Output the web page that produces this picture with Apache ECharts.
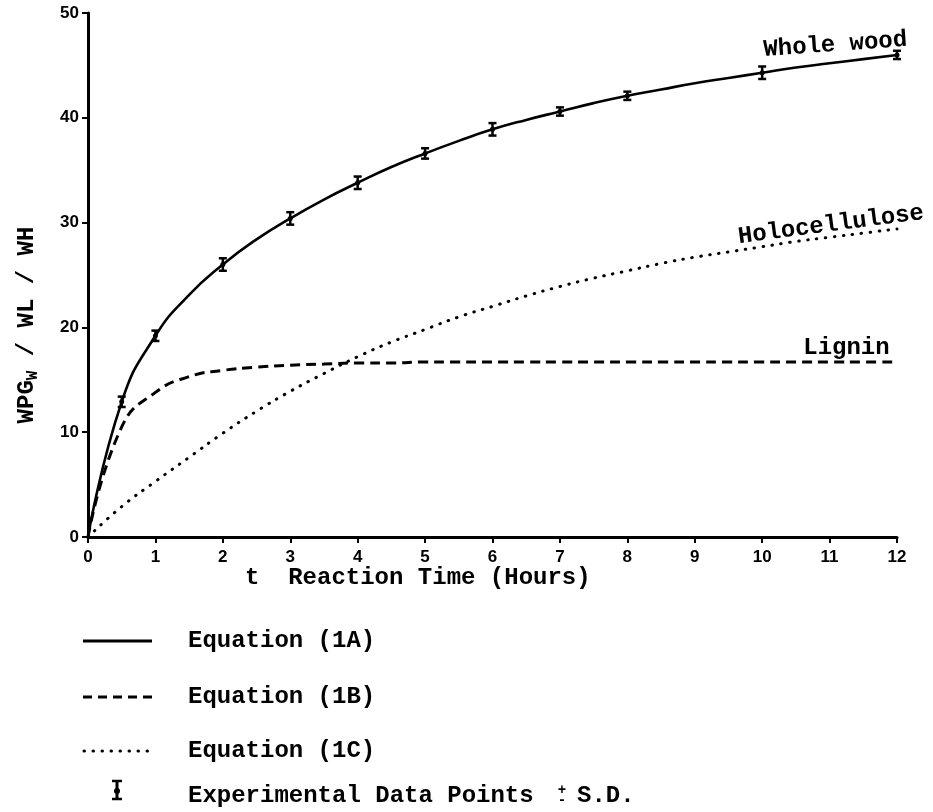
<!DOCTYPE html>
<html>
<head>
<meta charset="utf-8">
<script src="https://cdn.jsdelivr.net/npm/echarts@6/dist/echarts.min.js"></script>
<style>
  html, body { margin: 0; padding: 0; background: #fff; }
  #main { width: 933px; height: 812px; }
</style>
</head>
<body>
<div id="main"></div>
<script>
const hours = [0, 0.5, 1, 1.5, 2, 2.5, 3, 3.5, 4, 4.5, 5, 5.5, 6, 6.5, 7, 7.5, 8, 8.5, 9, 9.5, 10, 10.5, 11, 11.5, 12];
// Equation (1A) whole wood
const wholeWood = [0, 12.9, 19.2, 23.1, 26.0, 28.4, 30.4, 32.2, 33.8, 35.3, 36.6, 37.8, 38.9, 39.8, 40.6, 41.4, 42.1, 42.7, 43.3, 43.8, 44.3, 44.8, 45.2, 45.6, 46.0];
// Equation (1B) lignin
const lignin = [0, 10.5, 13.8, 15.3, 15.9, 16.2, 16.4, 16.5, 16.6, 16.6, 16.7, 16.7, 16.7, 16.7, 16.7, 16.7, 16.7, 16.7, 16.7, 16.7, 16.7, 16.7, 16.7, 16.7, 16.7];
// Equation (1C) holocellulose
const holocellulose = [0, 2.9, 5.3, 7.6, 9.9, 12.0, 13.9, 15.6, 17.2, 18.6, 19.8, 21.0, 22.0, 23.0, 23.9, 24.7, 25.4, 26.1, 26.7, 27.2, 27.7, 28.2, 28.6, 29.0, 29.4];

// experimental data points +- S.D.
const expHours = [0.5, 1, 2, 3, 4, 5, 6, 7, 8, 10, 12];
const expMean = [12.9, 19.2, 26.0, 30.4, 33.8, 36.6, 38.9, 40.6, 42.1, 44.3, 46.0];
const expSD = [0.4, 0.4, 0.5, 0.5, 0.5, 0.4, 0.5, 0.3, 0.3, 0.5, 0.3];

const xTicks = [0, 12, 1];
const yTicks = [0, 50, 10];

const mono = "'Liberation Mono', 'DejaVu Sans Mono', monospace";
const sans = "'Liberation Sans', Arial, sans-serif";

const pairs = (xs, ys) => xs.map((x, i) => [x, ys[i]]);

function curveLabel (text, coord, offset, rotate) {
  return {
    symbol: 'circle',
    symbolSize: 0,
    silent: true,
    label: {
      show: true,
      formatter: text,
      position: 'inside',
      offset: offset,
      rotate: rotate,
      color: '#000',
      fontFamily: mono,
      fontWeight: 'bold',
      fontSize: 24
    },
    data: [{ coord: coord }]
  };
}

const chart = echarts.init(document.getElementById('main'));

const option = {
  backgroundColor: '#fff',
  animation: false,
  grid: { left: 88, right: 36, top: 13, bottom: 275 },
  xAxis: {
    type: 'value',
    min: xTicks[0],
    max: xTicks[1],
    interval: xTicks[2],
    splitLine: { show: false },
    axisLine: { lineStyle: { color: '#000', width: 3 } },
    axisTick: { length: 6, lineStyle: { color: '#000', width: 2 } },
    axisLabel: { color: '#000', fontFamily: sans, fontWeight: 'bold', fontSize: 17, margin: 12 }
  },
  yAxis: {
    type: 'value',
    min: yTicks[0],
    max: yTicks[1],
    interval: yTicks[2],
    splitLine: { show: false },
    axisLine: { lineStyle: { color: '#000', width: 3 } },
    axisTick: { length: 6, lineStyle: { color: '#000', width: 2 } },
    axisLabel: { color: '#000', fontFamily: sans, fontWeight: 'bold', fontSize: 17, margin: 9 }
  },
  series: [
    {
      name: 'Equation (1A)',
      type: 'line',
      data: pairs(hours, wholeWood),
      smooth: 0.5,
      symbol: 'none',
      lineStyle: { color: '#000', width: 2.6 },
      z: 3,
      markPoint: curveLabel('Whole wood', [11, 45.2], [7, -18], 4)
    },
    {
      name: 'Equation (1B)',
      type: 'line',
      data: pairs(hours, lignin),
      smooth: 0.5,
      symbol: 'none',
      lineStyle: { color: '#000', width: 3, type: [10, 6] },
      z: 2,
      markPoint: curveLabel('Lignin', [11.25, 16.7], [0, -14], 0)
    },
    {
      name: 'Equation (1C)',
      type: 'line',
      data: pairs(hours, holocellulose),
      smooth: 0.5,
      symbol: 'none',
      lineStyle: { color: '#000', width: 3, type: [0.5, 8.5], cap: 'round' },
      z: 2,
      markPoint: curveLabel('Holocellulose', [11, 28.6], [3, -12], 7.5)
    },
    {
      name: 'Experimental Data Points',
      type: 'custom',
      data: expHours.map((h, i) => [h, expMean[i], expSD[i]]),
      z: 4,
      renderItem: function (params, api) {
        const x = api.value(0), m = api.value(1), s = api.value(2);
        const top = api.coord([x, m + s]);
        const bot = api.coord([x, m - s]);
        const mid = api.coord([x, m]);
        const w = 4;
        const st = { stroke: '#000', lineWidth: 2.5 };
        return {
          type: 'group',
          children: [
            { type: 'line', shape: { x1: top[0], y1: top[1] - 1, x2: bot[0], y2: bot[1] + 1 }, style: st },
            { type: 'line', shape: { x1: top[0] - w, y1: top[1] - 1, x2: top[0] + w, y2: top[1] - 1 }, style: st },
            { type: 'line', shape: { x1: bot[0] - w, y1: bot[1] + 1, x2: bot[0] + w, y2: bot[1] + 1 }, style: st },
            { type: 'circle', shape: { cx: mid[0], cy: mid[1], r: 2.5 }, style: { fill: '#000' } }
          ]
        };
      }
    }
  ],
  graphic: [
    {
      type: 'text',
      x: 27,
      y: 325,
      rotation: Math.PI / 2,
      style: {
        text: '{m|WPG}{s|W}{m| / WL / WH}',
        align: 'center',
        verticalAlign: 'middle',
        fill: '#000',
        rich: {
          m: { fontFamily: mono, fontWeight: 'bold', fontSize: 24, lineHeight: 28, verticalAlign: 'middle' },
          s: { fontFamily: mono, fontWeight: 'bold', fontSize: 16, lineHeight: 28, verticalAlign: 'bottom', padding: [8, 0, 0, 0] }
        }
      }
    },
    {
      type: 'text',
      x: 245,
      y: 578,
      style: {
        text: 't  Reaction Time (Hours)',
        align: 'left',
        verticalAlign: 'middle',
        fill: '#000',
        font: 'bold 24px ' + mono
      }
    },
    // legend
    { type: 'line', shape: { x1: 83, y1: 641, x2: 152, y2: 641 }, style: { stroke: '#000', lineWidth: 3 } },
    { type: 'text', x: 188, y: 641, style: { text: 'Equation (1A)', verticalAlign: 'middle', fill: '#000', font: 'bold 24px ' + mono } },
    { type: 'line', shape: { x1: 83, y1: 697, x2: 152, y2: 697 }, style: { stroke: '#000', lineWidth: 3, lineDash: [9, 6] } },
    { type: 'text', x: 188, y: 697, style: { text: 'Equation (1B)', verticalAlign: 'middle', fill: '#000', font: 'bold 24px ' + mono } },
    { type: 'line', shape: { x1: 84, y1: 751, x2: 152, y2: 751 }, style: { stroke: '#000', lineWidth: 3, lineDash: [0.5, 8.5], lineCap: 'round' } },
    { type: 'text', x: 188, y: 751, style: { text: 'Equation (1C)', verticalAlign: 'middle', fill: '#000', font: 'bold 24px ' + mono } },
    {
      type: 'group',
      x: 117,
      y: 790,
      children: [
        { type: 'line', shape: { x1: 0, y1: -9, x2: 0, y2: 9 }, style: { stroke: '#000', lineWidth: 3 } },
        { type: 'line', shape: { x1: -5, y1: -9, x2: 5, y2: -9 }, style: { stroke: '#000', lineWidth: 2.5 } },
        { type: 'line', shape: { x1: -5, y1: 9, x2: 5, y2: 9 }, style: { stroke: '#000', lineWidth: 2.5 } },
        { type: 'circle', shape: { cx: 0, cy: 1, r: 3 }, style: { fill: '#000' } }
      ]
    },
    { type: 'text', x: 188, y: 796, style: { text: 'Experimental Data Points', verticalAlign: 'middle', fill: '#000', font: 'bold 24px ' + mono } },
    { type: 'text', x: 562, y: 790, style: { text: '+', align: 'center', verticalAlign: 'middle', fill: '#000', font: 'bold 14px ' + mono } },
    { type: 'text', x: 562, y: 800, style: { text: '-', align: 'center', verticalAlign: 'middle', fill: '#000', font: 'bold 14px ' + mono } },
    { type: 'text', x: 577, y: 796, style: { text: 'S.D.', verticalAlign: 'middle', fill: '#000', font: 'bold 24px ' + mono } }
  ]
};

chart.setOption(option);
</script>
</body>
</html>
